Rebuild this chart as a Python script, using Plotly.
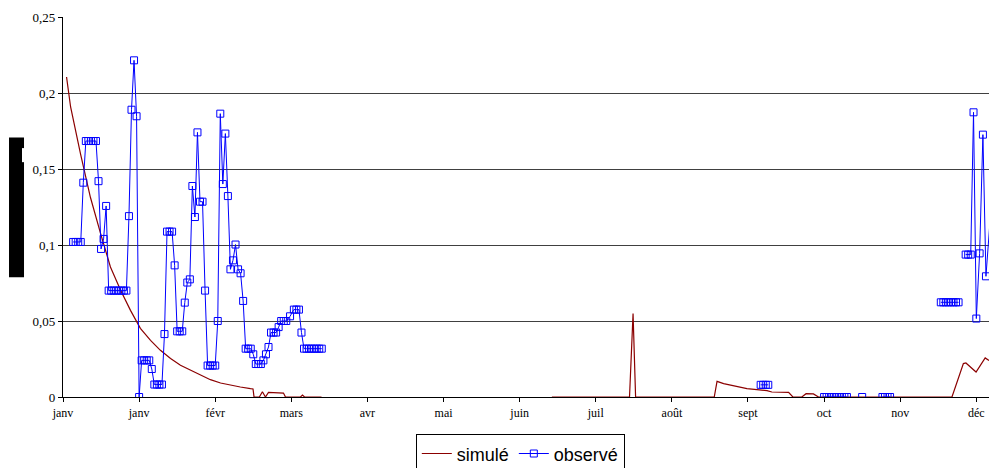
import plotly.graph_objects as go

# ---------------- data ----------------
month_ticks = [0, 30, 60, 90, 120, 150, 180, 210, 240, 270, 300, 330, 360]
month_labels = ['janv', 'janv', 'févr', 'mars', 'avr', 'mai', 'juin',
                'juil', 'août', 'sept', 'oct', 'nov', 'déc']
y_ticks = [0, 0.05, 0.1, 0.15, 0.2, 0.25]

sim_day = [1.4, 3, 6.9, 10.8, 14.8, 18.7, 22.7, 26.6, 30.5, 34.5, 38.4, 42.4,
           46.3, 50.2, 54.2, 58.1, 62.1, 66, 69.9, 73.9, 74.9, 75.3, 77.4,
           78.6, 79.8, 81, 86.9, 87.7, 93.6, 94.4, 95.2, 101.9,
           150,
           192.7, 223.3, 224.7, 225.7, 256.7, 257.8, 260.4, 264.3, 269.6,
           273.5, 277.5, 279.4, 286, 287.7, 291.2, 292.9, 295.8, 297.8,
           350.4, 354.9, 355.9, 359.9, 363.5, 365]
sim_val = [0.2105, 0.1908, 0.160, 0.1314, 0.1077, 0.0855, 0.0702, 0.057,
           0.0452, 0.0373, 0.0307, 0.0253, 0.0209, 0.0176, 0.0143, 0.0114,
           0.0092, 0.0077, 0.0066, 0.0055, 0.0053, 0, 0, 0.0035, 0, 0.003,
           0.0026, 0, 0, 0.0013, 0, 0,
           None,
           0, 0, 0.0549, 0, 0, 0.0103, 0.0088, 0.0072, 0.0055, 0.0049,
           0.0042, 0.0033, 0.0031, 0, 0, 0.0022, 0.002, 0,
           0, 0.022, 0.0224, 0.0164, 0.0257, 0.024]

obs_day = [4, 5, 6, 7, 8, 9, 10, 11, 12, 13, 14, 15, 16, 17,
           18, 19, 20, 21, 22, 23, 24, 25, 26, 27, 28, 29, 30,
           31, 32, 33, 34, 35, 36, 37, 38, 39, 40, 41, 42, 43, 44,
           45, 46, 47, 48, 49, 50, 51, 52, 53, 54, 55, 56,
           57, 58, 59, 60, 61, 62, 63, 64, 65, 66, 67, 68, 69, 70, 71,
           72, 73, 74, 75, 76, 77, 78, 79, 80, 81, 82, 83, 84, 85,
           86, 87, 88, 89.5, 91, 92, 93, 94,
           95, 96, 97, 98, 99, 100, 101, 102,
           180,
           275, 276, 277, 278,
           290,
           300, 301, 302, 303, 304, 305, 306, 307, 308, 309,
           312,
           315,
           319,
           323, 324, 325, 326,
           335,
           346, 347, 348, 349, 350, 351, 352, 353,
           354.5,
           355.8, 356.8, 357.8, 358.9, 360, 361.3, 362.6, 363.8, 368]
obs_val = [0.102, 0.102, 0.102, 0.102, 0.141, 0.1684, 0.1684, 0.1684, 0.1684,
           0.1684, 0.142, 0.0974, 0.104, 0.1257,
           0.070, 0.070, 0.070, 0.070, 0.070, 0.070, 0.070, 0.070,
           0.119, 0.189, 0.2215, 0.1847, 0,
           0.0241, 0.0241, 0.0241, 0.0241, 0.0184, 0.0082, 0.0082, 0.0082,
           0.0082, 0.0414, 0.1088, 0.1088, 0.1088, 0.0866,
           0.0432, 0.0432, 0.0432, 0.0621, 0.0753, 0.0774, 0.1388, 0.1184,
           0.1741, 0.1285, 0.1285, 0.070,
           0.0207, 0.0207, 0.0207, 0.0207, 0.050, 0.1864, 0.1401, 0.1733,
           0.1322, 0.084, 0.0899, 0.1003, 0.084, 0.0814, 0.0632,
           0.0318, 0.0318, 0.0318, 0.0281, 0.0217, 0.0217, 0.0217, 0.0241,
           0.0281, 0.0329, 0.0424, 0.0424, 0.0424, 0.046,
           0.050, 0.050, 0.050, 0.0531, 0.0575, 0.0575, 0.0575, 0.0424,
           0.0318, 0.0318, 0.0318, 0.0318, 0.0318, 0.0318, 0.0318, 0.0318,
           None,
           0.008, 0.008, 0.008, 0.008,
           None,
           0, 0, 0, 0, 0, 0, 0, 0, 0, 0,
           None,
           0,
           None,
           0, 0, 0, 0,
           None,
           0.0623, 0.0623, 0.0623, 0.0623, 0.0623, 0.0623, 0.0623, 0.0623,
           None,
           0.0937, 0.0937, 0.0937, 0.1873, 0.0516, 0.0945, 0.1726, 0.0794,
           0.175]

# ---------------- figure ----------------
fig = go.Figure()
fig.add_trace(go.Scatter(
    x=sim_day, y=sim_val, name='simulé', mode='lines',
    line=dict(color='#8B0000', width=1.2), connectgaps=False))
fig.add_trace(go.Scatter(
    x=obs_day, y=obs_val, name='observé', mode='lines+markers',
    line=dict(color='#0000FF', width=1),
    marker=dict(symbol='square-open', size=7, color='#0000FF',
                line=dict(color='#0000FF', width=1)),
    connectgaps=False))

serif = 'Liberation Serif, Times New Roman, serif'
fig.update_layout(
    width=989, height=468,
    margin=dict(l=63, r=0, t=17, b=71),
    plot_bgcolor='white', paper_bgcolor='white',
    separators=',.',
    showlegend=True,
    legend=dict(orientation='h', x=0.381, xanchor='left',
                yref='container', y=0.072, yanchor='top',
                bordercolor='black', borderwidth=1,
                bgcolor='white',
                font=dict(family='Liberation Sans, Arial, sans-serif',
                          size=18, color='black')),
    xaxis=dict(range=[0, 365], tickvals=month_ticks, ticktext=month_labels,
               showgrid=False, zeroline=False, showline=True,
               linecolor='black', linewidth=1.3, ticks='outside',
               ticklen=4, tickcolor='black', layer='below traces',
               tickfont=dict(family=serif, size=12, color='black')),
    yaxis=dict(range=[0, 0.25], tickvals=y_ticks, showgrid=True,
               gridcolor='#404040', gridwidth=1.3, zeroline=False,
               showline=True, linecolor='black', linewidth=1.3,
               ticks='outside', ticklen=4, tickcolor='black',
               layer='below traces',
               tickfont=dict(family=serif, size=13, color='black')),
    shapes=[
        dict(type='rect', xref='paper', yref='paper',
             x0=-0.0583, x1=-0.0421, y0=0.315, y1=0.683,
             fillcolor='black', line=dict(width=0)),
        dict(type='rect', xref='paper', yref='paper',
             x0=-0.0443, x1=-0.0415, y0=0.618, y1=0.655,
             fillcolor='white', line=dict(width=0)),
    ],
)

fig.write_html('out.html')
